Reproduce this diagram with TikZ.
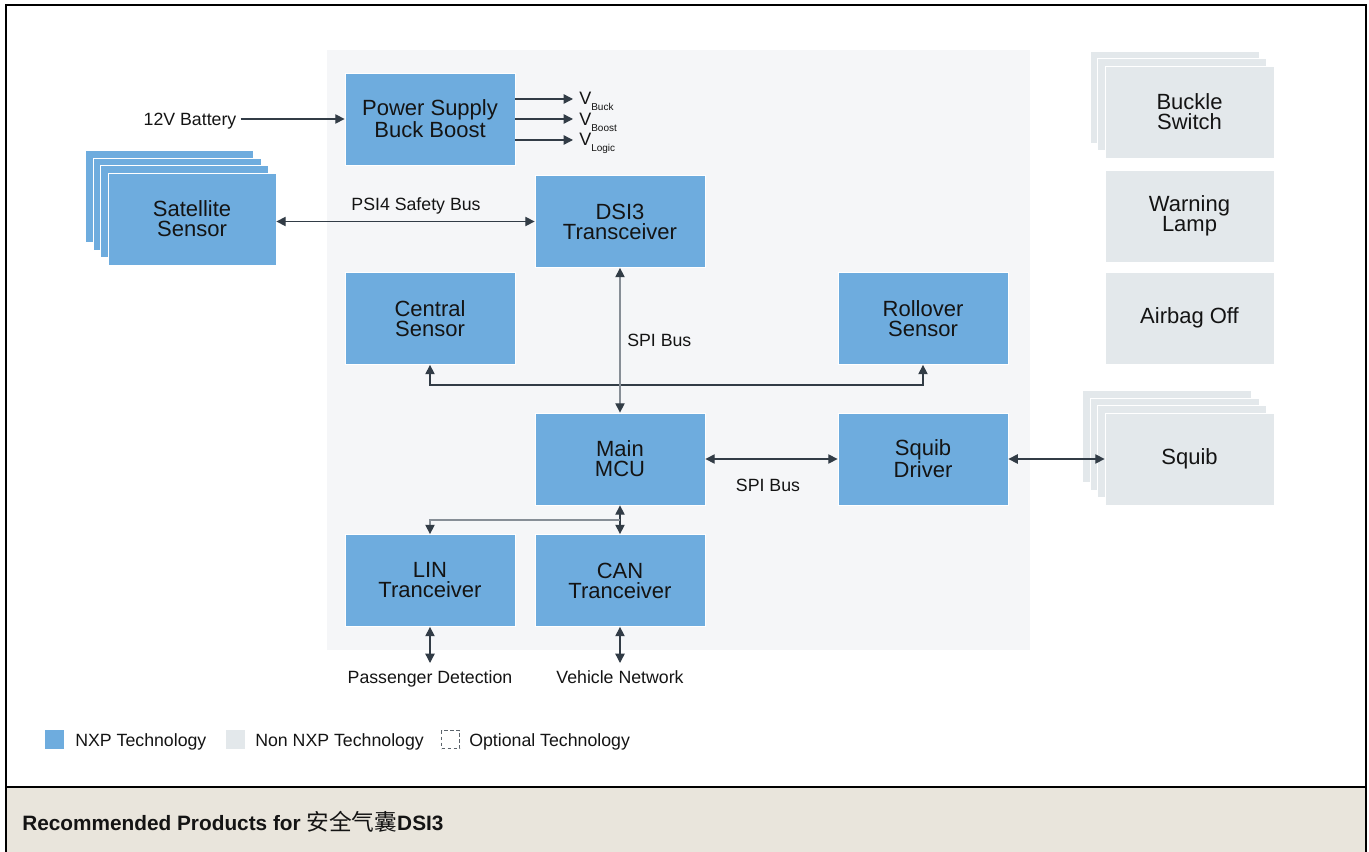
\documentclass[tikz,border=0pt]{standalone}
\usepackage{fontspec}
\setmainfont{Liberation Sans}
\newfontfamily\cjkfont{Noto Sans CJK SC}
\usetikzlibrary{arrows.meta}
\definecolor{nxpblue}{RGB}{110,172,222}
\definecolor{nongray}{RGB}{227,232,235}
\definecolor{panel}{RGB}{245,246,248}
\definecolor{beige}{RGB}{233,229,220}
\definecolor{arrowc}{RGB}{50,60,70}
\definecolor{spigray}{RGB}{135,142,150}
\definecolor{txt}{RGB}{20,20,20}
\begin{document}
\begin{tikzpicture}[x=0.75pt,y=-0.75pt,
  >={Triangle[length=7pt,width=7pt]},
  box/.style={minimum width=127.5pt,minimum height=69pt,inner sep=0pt,draw=white,line width=0.6pt,align=center,font=\fontsize{16.5}{15}\selectfont,text=txt},
  nxpbox/.style={box,fill=nxpblue},
  othbox/.style={box,fill=nongray,minimum width=126.75pt},
  layerA/.style={fill=nxpblue,draw=white,line width=0.6pt},
  layerB/.style={fill=nongray,draw=white,line width=0.6pt},
  lbl/.style={font=\fontsize{13.3}{15}\selectfont,text=txt,inner sep=0pt,text height=11pt,text depth=1pt},
  conn/.style={draw=arrowc,line width=1pt},
  vlbl/.style={anchor=base west,inner sep=0pt,text=txt,font=\fontsize{13.5}{15}\selectfont},
  legsq/.style={minimum size=14.25pt,inner sep=0pt}
]
\useasboundingbox (0,0) rectangle (1369,852);
% bottom bar
\fill[beige] (6,788) rectangle (1366,852);
% outer frame
\draw[black,line width=1.5pt] (6,852) -- (6,5) -- (1366,5) -- (1366,852);
\draw[black,line width=1.5pt] (6,787) -- (1366,787);
% background panel
\fill[panel] (327,50) rectangle (1030,650);

% NXP boxes
\node[nxpbox] (ps)  at (430,119)   {Power Supply\\Buck Boost};
\node[nxpbox] (dsi) at (620,221.5) {DSI3\\Transceiver};
\node[nxpbox] (cs)  at (430,318.5) {Central\\Sensor};
\node[nxpbox] (rs)  at (923,318.5) {Rollover\\Sensor};
\node[nxpbox] (mcu) at (620,459)   {Main\\MCU};
\node[nxpbox] (sd)  at (923,459)   {Squib\\Driver};
\node[nxpbox] (lin) at (430,580.5) {LIN\\Tranceiver};
\node[nxpbox] (can) at (620,580.5) {CAN\\Tranceiver};

% Satellite sensor stack
\foreach \k in {3,2,1}
  \draw[layerA] ({108-7.4*\k},{173-7.4*\k}) rectangle ++(168,92);
\node[nxpbox,minimum width=126pt] (sat) at (192,219) {Satellite\\Sensor};

% Buckle switch stack
\foreach \k in {2,1}
  \draw[layerB] ({1105-7.4*\k},{66-7.4*\k}) rectangle ++(169,92);
\node[othbox] (bs) at (1189.5,112) {Buckle\\Switch};
\node[othbox] (wl) at (1189.5,216) {Warning\\Lamp};
\node[othbox] (ao) at (1189.5,318) {Airbag Off};

% Squib stack
\foreach \k in {3,2,1}
  \draw[layerB] ({1105-7.4*\k},{413-7.4*\k}) rectangle ++(169,92);
\node[othbox] (sq) at (1189.5,459) {Squib};

% labels
\node[lbl] (bat) at (190,119) {12V Battery};
\node[lbl] (psi) at (416,204) {PSI4 Safety Bus};
\node[lbl,anchor=west] (spi1) at (627,340) {SPI Bus};
\node[lbl] (spi2) at (768,485) {SPI Bus};
\node[lbl] (pd) at (430,677) {Passenger Detection};
\node[lbl] (vn) at (620,677) {Vehicle Network};

\node[vlbl] (vb) at (579,105) {V\raisebox{-4pt}{\fontsize{7.5}{8}\selectfont Buck}};
\node[vlbl] (vo) at (579,126) {V\raisebox{-4pt}{\fontsize{7.5}{8}\selectfont Boost}};
\node[vlbl] (vl) at (579,146) {V\raisebox{-4pt}{\fontsize{7.5}{8}\selectfont Logic}};

\coordinate (vbt) at (573,99);
\coordinate (vot) at (573,119);
\coordinate (vlt) at (573,140);
\coordinate (pdt) at (430,663);
\coordinate (vnt) at (620,663);
\coordinate (jn) at (620,520);

% connectors
\draw[conn,->,shorten <=3pt] (bat.east) -- (ps.west);
\draw[conn,->] (ps.east |- vbt) -- (vbt);
\draw[conn,->] (ps.east |- vot) -- (vot);
\draw[conn,->] (ps.east |- vlt) -- (vlt);
\draw[conn,<->] (sat.east |- dsi.west) -- (dsi.west);
\draw[conn,<->] (cs.south) -- ++(0,20) -| (rs.south);
\draw[conn,draw=spigray,<->,arrows={Triangle[length=7pt,width=7pt,fill=arrowc,color=arrowc]-Triangle[length=7pt,width=7pt,fill=arrowc,color=arrowc]}] (dsi.south) -- (mcu.north);
\draw[conn,<->] (mcu.east) -- (sd.west);
\draw[conn,<->] (sd.east) -- (sq.west);
\draw[conn,<->] (mcu.south) -- (can.north);
\draw[conn,draw=spigray,->,arrows={-Triangle[length=7pt,width=7pt,fill=arrowc,color=arrowc]}] (jn) -| (lin.north);
\draw[conn,<->] (lin.south) -- (pdt);
\draw[conn,<->] (can.south) -- (vnt);

% legend
\node[legsq,fill=nxpblue] (lg1) at (54.5,739.5) {};
\node[lbl,anchor=west] (lt1) at (75,740) {NXP Technology};
\node[legsq,fill=nongray] (lg2) at (235.5,739.5) {};
\node[lbl,anchor=west] (lt2) at (255,740) {Non NXP Technology};
\node[legsq,draw=arrowc!80,dashed,dash pattern=on 2.5pt off 2pt,line width=0.6pt,minimum size=13.5pt] (lg3) at (450.5,739.5) {};
\node[lbl,anchor=west] (lt3) at (469,740) {Optional Technology};

% bottom title
\node[anchor=west,inner sep=0pt,text=txt,font=\bfseries\fontsize{15.6}{18}\selectfont] (title) at (22,822) {Recommended Products for {\cjkfont\mdseries\fontsize{17}{18}\selectfont 安全气囊}DSI3};
\end{tikzpicture}
\end{document}
